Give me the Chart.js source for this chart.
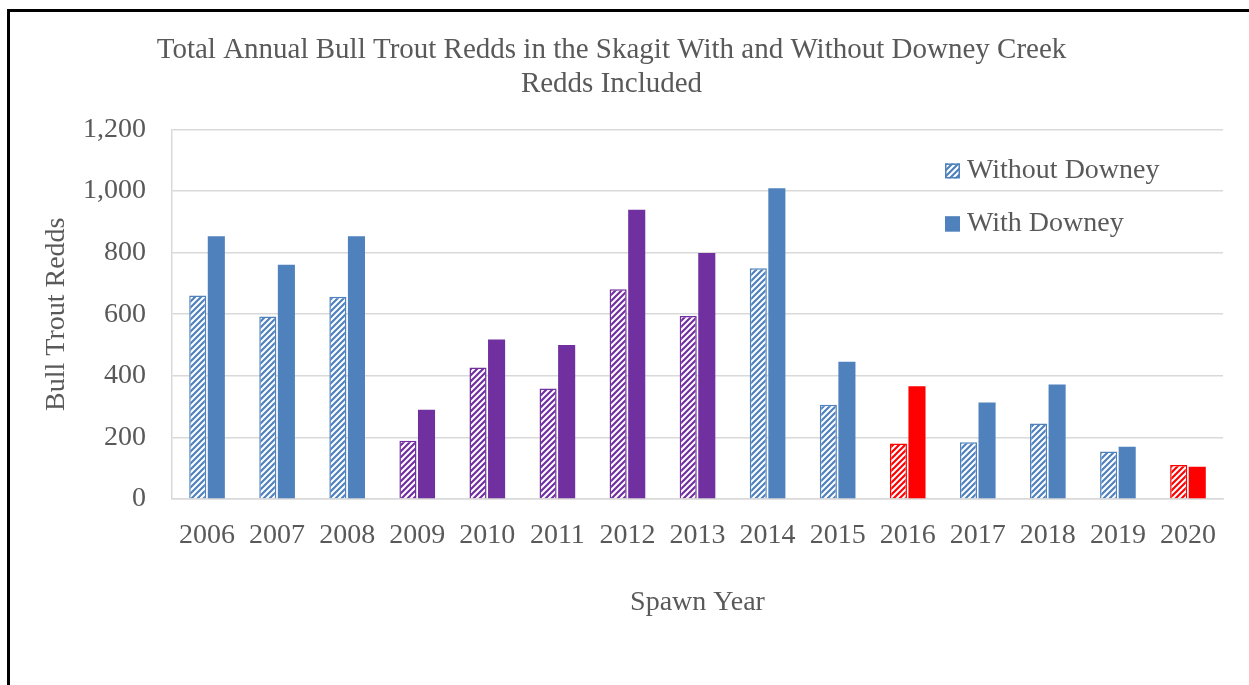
<!DOCTYPE html>
<html>
<head>
<meta charset="utf-8">
<title>Bull Trout Redds</title>
<script src="https://cdn.jsdelivr.net/npm/chart.js@4.4.1/dist/chart.umd.min.js"></script>
<style>
  html, body { margin: 0; padding: 0; background: #fff; overflow: hidden; }
  #wrap { position: relative; width: 1249px; height: 685px; }
  #frame { position: absolute; left: 7px; top: 9px; width: 1300px; height: 720px; border: 3px solid #000; box-sizing: border-box; }
  #chart { position: absolute; left: 0; top: 0; }
</style>
</head>
<body>
<div id="wrap">
  <div id="frame"></div>
  <canvas id="chart" width="1249" height="685"></canvas>
</div>
<script>
  const years = ["2006", "2007", "2008", "2009", "2010", "2011", "2012", "2013",
                 "2014", "2015", "2016", "2017", "2018", "2019", "2020"];
  const withoutDowney = [661, 593, 657, 189, 427, 359, 681, 594, 749, 306, 180, 184, 245, 154, 110];
  const withDowney = [853, 761, 853, 290, 518, 500, 939, 799, 1009, 446, 366, 313, 372, 170, 105];
  const yTicks = [0, 200, 400, 600, 800, 1000, 1200];

  const BLUE = "#4f81bd";
  const PURPLE = "#7030a0";
  const RED = "#ff0000";
  const TEXT = "#595959";
  const GRID = "#d9d9d9";
  const SERIF = "'Liberation Serif', 'Times New Roman', serif";

  const barColors = [BLUE, BLUE, BLUE, PURPLE, PURPLE, PURPLE, PURPLE, PURPLE,
                     BLUE, BLUE, RED, BLUE, BLUE, BLUE, RED];

  // upward diagonal stripes, like the office "wide upward diagonal" fill
  function hatch(color) {
    const tile = document.createElement("canvas");
    tile.width = 6;
    tile.height = 6;
    const g = tile.getContext("2d");
    g.fillStyle = "#fff";
    g.fillRect(0, 0, 6, 6);
    g.strokeStyle = color;
    g.lineWidth = 2.2;
    g.beginPath();
    g.moveTo(0, 6); g.lineTo(6, 0);
    g.moveTo(-3, 3); g.lineTo(3, -3);
    g.moveTo(3, 9); g.lineTo(9, 3);
    g.stroke();
    return g.createPattern(tile, "repeat");
  }

  const cornerLegend = {
    id: "cornerLegend",
    afterDraw(chart) {
      const { ctx, chartArea } = chart;
      const items = [
        { text: "Without Downey", fill: hatch(BLUE), dy: 41 },
        { text: "With Downey", fill: BLUE, dy: 94 },
      ];
      const boxX = chartArea.right - 278;
      ctx.save();
      ctx.font = "28px " + SERIF;
      ctx.textBaseline = "middle";
      items.forEach((item) => {
        const cy = chartArea.top + item.dy;
        ctx.fillStyle = item.fill;
        ctx.fillRect(boxX, cy - 7, 15, 15);
        ctx.strokeStyle = BLUE;
        ctx.lineWidth = 1.5;
        ctx.strokeRect(boxX + 0.75, cy - 6.25, 13.5, 13.5);
        ctx.fillStyle = TEXT;
        ctx.fillText(item.text, boxX + 22, cy);
      });
      ctx.restore();
    },
  };

  new Chart(document.getElementById("chart"), {
    type: "bar",
    data: {
      labels: years,
      datasets: [
        {
          label: "Without Downey",
          data: withoutDowney,
          backgroundColor: barColors.map(hatch),
          borderColor: barColors,
          borderWidth: 1.5,
        },
        {
          label: "With Downey",
          data: withDowney,
          backgroundColor: barColors,
          borderColor: barColors,
          borderWidth: 0,
        },
      ],
    },
    options: {
      responsive: false,
      animation: false,
      devicePixelRatio: 1,
      categoryPercentage: 0.53,
      barPercentage: 0.92,
      layout: { padding: { left: 0, right: 26, top: 0, bottom: 0 } },
      plugins: {
        legend: { display: false },
        tooltip: { enabled: false },
        title: {
          display: true,
          text: ["Total Annual Bull Trout Redds in the Skagit With and Without Downey Creek",
                 "Redds Included"],
          color: TEXT,
          font: { family: SERIF, size: 29, weight: "normal", lineHeight: 1.18 },
          padding: { top: 33, bottom: 28 },
        },
      },
      scales: {
        x: {
          grid: { display: false, drawTicks: false },
          border: { display: true, color: GRID, width: 1.5 },
          ticks: {
            color: TEXT,
            font: { family: SERIF, size: 28 },
            padding: 20,
            maxRotation: 0,
            autoSkip: false,
          },
          title: {
            display: true,
            text: "Spawn Year",
            color: TEXT,
            font: { family: SERIF, size: 28 },
            padding: { top: 0, bottom: 66 },
          },
          afterFit(scale) { scale.height = 186; },
        },
        y: {
          min: 0,
          max: 1200,
          afterBuildTicks(scale) { scale.ticks = yTicks.map((v) => ({ value: v })); },
          grid: { color: GRID, lineWidth: 1.5, drawTicks: false },
          border: { display: true, color: GRID, width: 1.5 },
          ticks: {
            color: TEXT,
            font: { family: SERIF, size: 28 },
            padding: 26,
            callback: (v) => v.toLocaleString("en-US"),
          },
          title: {
            display: true,
            text: "Bull Trout Redds",
            color: TEXT,
            font: { family: SERIF, size: 28 },
            padding: { top: 40, bottom: 0 },
          },
          afterFit(scale) { scale.width = 172; },
        },
      },
    },
    plugins: [cornerLegend],
  });
</script>
</body>
</html>
